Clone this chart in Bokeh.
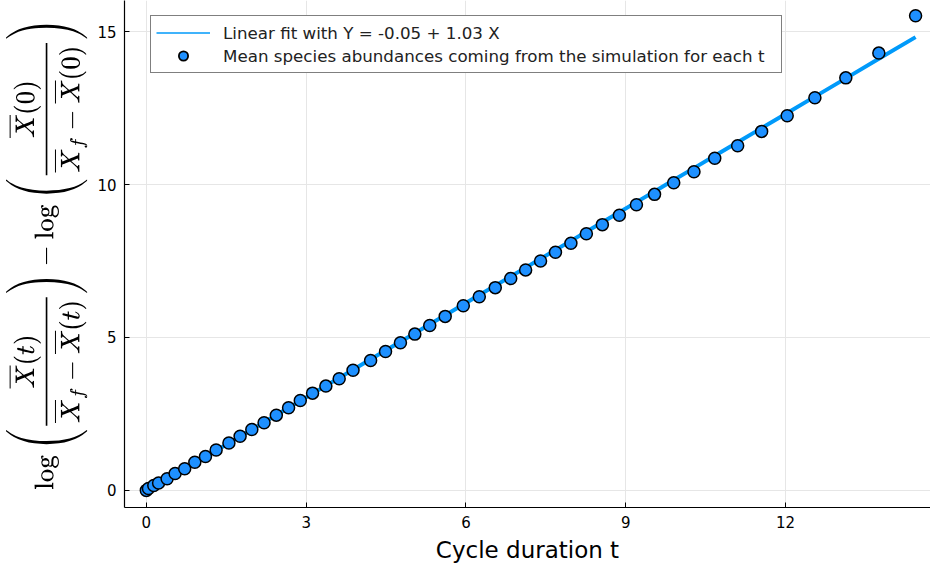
from bokeh.plotting import figure
from bokeh.models import Range1d, FixedTicker, Legend, LegendItem, TeX
from bokeh.embed import file_html
from bokeh.resources import INLINE

# ---- data ----
t_values = [0.0, 0.04, 0.14, 0.23, 0.39, 0.54, 0.72, 0.91, 1.11, 1.31,
            1.55, 1.76, 1.98, 2.21, 2.44, 2.67, 2.89, 3.12, 3.37, 3.62,
            3.88, 4.21, 4.49, 4.77, 5.04, 5.32, 5.61, 5.95, 6.25, 6.55,
            6.84, 7.12, 7.40, 7.68, 7.97, 8.26, 8.56, 8.88, 9.20, 9.54,
            9.90, 10.28, 10.67, 11.10, 11.55, 12.03, 12.55, 13.13, 13.75, 14.44]
y_values = [0.0, 0.06, 0.16, 0.24, 0.38, 0.55, 0.71, 0.92, 1.11, 1.32,
            1.55, 1.77, 1.99, 2.21, 2.46, 2.70, 2.94, 3.18, 3.41, 3.65,
            3.93, 4.25, 4.54, 4.83, 5.11, 5.39, 5.69, 6.04, 6.33, 6.63,
            6.93, 7.21, 7.50, 7.79, 8.08, 8.39, 8.69, 9.00, 9.34, 9.68,
            10.06, 10.42, 10.86, 11.27, 11.74, 12.25, 12.84, 13.49, 14.30, 15.52]
fit_intercept = -0.05
fit_slope = 1.03
x_ticks = [0, 3, 6, 9, 12]
y_ticks = [0, 5, 10, 15]
fit_label = "Linear fit with Y = -0.05 + 1.03 X"
points_label = "Mean species abundances coming from the simulation for each t"
x_label = "Cycle duration t"
y_label = (r"\log\left(\frac{\overline{X}(t)}{\overline{X}_f - \overline{X}(t)}\right)"
           r" - \log\left(\frac{\overline{X}(0)}{\overline{X}_f - \overline{X}(0)}\right)")

fit_y = [fit_intercept + fit_slope * t for t in t_values]

FONT = "DejaVu Sans"
LINE_COLOR = "#009AFA"
DOT_COLOR = "#1E90FF"
NAN = float("nan")

p = figure(width=930, height=569, output_backend="svg", toolbar_location=None,
           x_range=Range1d(-0.41, 14.72), y_range=Range1d(-0.56, 16.02),
           min_border_left=124, min_border_right=0, min_border_top=0,
           min_border_bottom=62)
p.outline_line_color = None
p.background_fill_color = "white"
p.border_fill_color = "white"

p.line(t_values, fit_y, line_color=LINE_COLOR, line_width=4)
p.scatter(t_values, y_values, size=12, fill_color=DOT_COLOR,
          line_color="black", line_width=1.5)

# legend-only renderers (thin line, larger marker as in the reference legend)
leg_line = p.line(x=[NAN, NAN], y=[NAN, NAN], line_color=LINE_COLOR, line_width=1.5)
leg_pts = p.scatter(x=[NAN], y=[NAN], size=15, fill_color=DOT_COLOR,
                    line_color="black", line_width=1.8)

for ax in (p.xaxis[0], p.yaxis[0]):
    ax.major_tick_in = 5
    ax.major_tick_out = 0
    ax.minor_tick_line_color = None
    ax.axis_line_color = "black"
    ax.axis_line_width = 1.2
    ax.major_tick_line_color = "black"
    ax.major_label_text_font = FONT
    ax.major_label_text_font_size = "15px"
    ax.major_label_text_color = "black"
    ax.axis_label_text_font_style = "normal"
    ax.axis_label_text_color = "black"

p.xaxis.ticker = FixedTicker(ticks=x_ticks)
p.yaxis.ticker = FixedTicker(ticks=y_ticks)
p.xaxis.axis_label = x_label
p.xaxis.axis_label_text_font = FONT
p.xaxis.axis_label_text_font_size = "23px"
p.xaxis.axis_label_standoff = 6
p.xaxis.major_label_standoff = 8
p.yaxis.major_label_standoff = 8
p.yaxis.axis_label = TeX(text=y_label)
p.yaxis.axis_label_text_font_size = "21.5px"
p.yaxis.axis_label_standoff = 7

p.xgrid.ticker = FixedTicker(ticks=x_ticks)
p.ygrid.ticker = FixedTicker(ticks=y_ticks)
p.grid.grid_line_color = "#e6e6e6"
p.grid.grid_line_width = 1

legend = Legend(items=[LegendItem(label=fit_label, renderers=[leg_line]),
                       LegendItem(label=points_label, renderers=[leg_pts])],
                location=(26, 434))
legend.border_line_color = "black"
legend.border_line_width = 1.2
legend.label_text_font = FONT
legend.label_text_font_size = "16.7px"
legend.label_text_color = "#222222"
legend.label_height = 20
legend.glyph_height = 23
legend.glyph_width = 54
legend.label_standoff = 13
legend.label_width = 553
legend.spacing = 0
legend.padding = 5
legend.margin = 0
legend.background_fill_alpha = 1
p.add_layout(legend, "center")

open("out.html", "w").write(file_html(p, INLINE))
